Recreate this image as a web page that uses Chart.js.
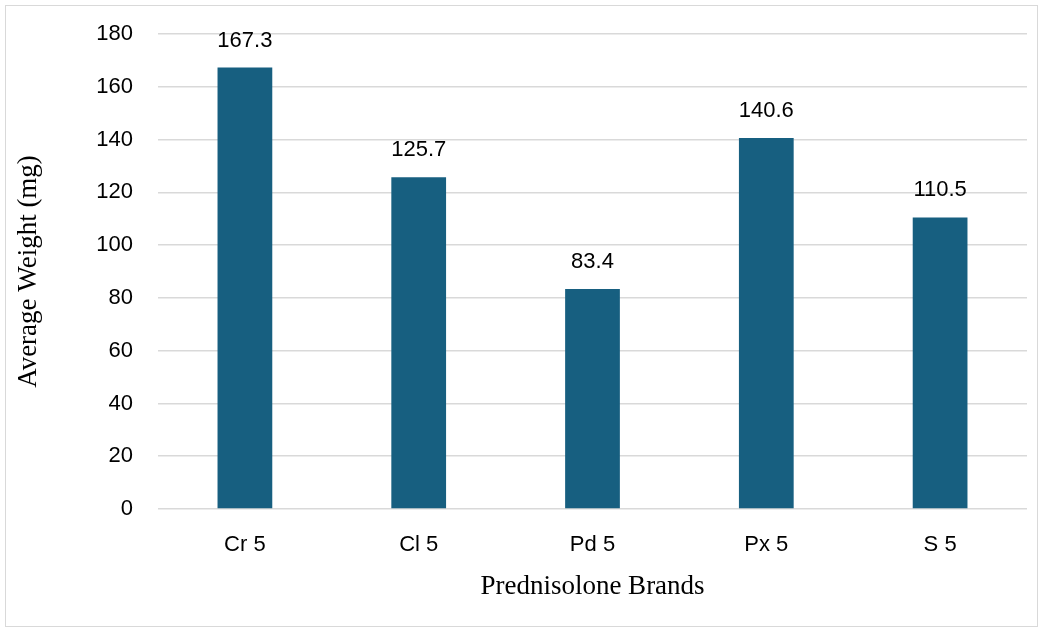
<!DOCTYPE html>
<html>
<head>
<meta charset="utf-8">
<script src="https://cdn.jsdelivr.net/npm/chart.js@4.4.0/dist/chart.umd.min.js"></script>
<style>
  html, body { margin: 0; padding: 0; background: #fff; }
  #wrap { width: 1043px; height: 632px; }
</style>
</head>
<body>
<div id="wrap"><canvas id="barChart" width="1043" height="632"></canvas></div>
<script>
const brands = ['Cr 5', 'Cl 5', 'Pd 5', 'Px 5', 'S 5'];
const avgWeight = [167.3, 125.7, 83.4, 140.6, 110.5];
const yMin = 0;
const yMax = 180;
const yStep = 20;

const tickFont = { family: '"Liberation Sans", Arial, sans-serif', size: 22 };
const titleFont = { family: '"Liberation Serif", "Times New Roman", serif', size: 27 };

// outer frame like the office chart border
const framePlugin = {
  id: 'frame',
  beforeDraw(chart) {
    const ctx = chart.ctx;
    ctx.save();
    ctx.fillStyle = '#fff';
    ctx.fillRect(0, 0, chart.width, chart.height);
    ctx.strokeStyle = '#d9d9d9';
    ctx.lineWidth = 1;
    ctx.strokeRect(5.5, 5.5, chart.width - 11, chart.height - 11);
    ctx.restore();
  },
};

// value labels above each bar
const valueLabels = {
  id: 'valueLabels',
  afterDatasetsDraw(chart) {
    const ctx = chart.ctx;
    const meta = chart.getDatasetMeta(0);
    ctx.save();
    ctx.font = `${tickFont.size}px ${tickFont.family}`;
    ctx.fillStyle = '#000';
    ctx.textAlign = 'center';
    ctx.textBaseline = 'bottom';
    meta.data.forEach((bar, i) => {
      ctx.fillText(avgWeight[i].toFixed(1), bar.x, bar.y - 16);
    });
    ctx.restore();
  },
};

new Chart(document.getElementById('barChart').getContext('2d'), {
  type: 'bar',
  data: {
    labels: brands,
    datasets: [
      {
        label: 'Average Weight (mg)',
        data: avgWeight,
        backgroundColor: '#175f80',
        borderWidth: 0,
        barPercentage: 0.315,
        categoryPercentage: 1,
      },
    ],
  },
  options: {
    responsive: false,
    animation: false,
    layout: { padding: { top: 34, left: 5, right: 16, bottom: 0 } },
    plugins: {
      legend: { display: false },
      tooltip: { enabled: false },
    },
    scales: {
      x: {
        grid: { display: false, drawTicks: false },
        border: { display: false },
        ticks: { color: '#000', font: tickFont, padding: 23, maxRotation: 0 },
        title: {
          display: true,
          text: 'Prednisolone Brands',
          color: '#000',
          font: titleFont,
          padding: { top: 0, bottom: 29 },
        },
        afterFit(scale) { scale.height = 123; },
      },
      y: {
        min: yMin,
        max: yMax,
        grid: { color: '#d9d9d9', lineWidth: 1.5, drawTicks: false },
        border: { display: false },
        ticks: { stepSize: yStep, color: '#000', font: tickFont, padding: 25 },
        title: {
          display: true,
          text: 'Average Weight (mg)',
          color: '#000',
          font: titleFont,
          padding: { top: 8, bottom: 0 },
        },
        afterFit(scale) {
          scale.width = 153;
          scale.paddingTop = 0; // let layout padding set the top
          scale.paddingBottom = 0;
        },
      },
    },
  },
  plugins: [framePlugin, valueLabels],
});
</script>
</body>
</html>
